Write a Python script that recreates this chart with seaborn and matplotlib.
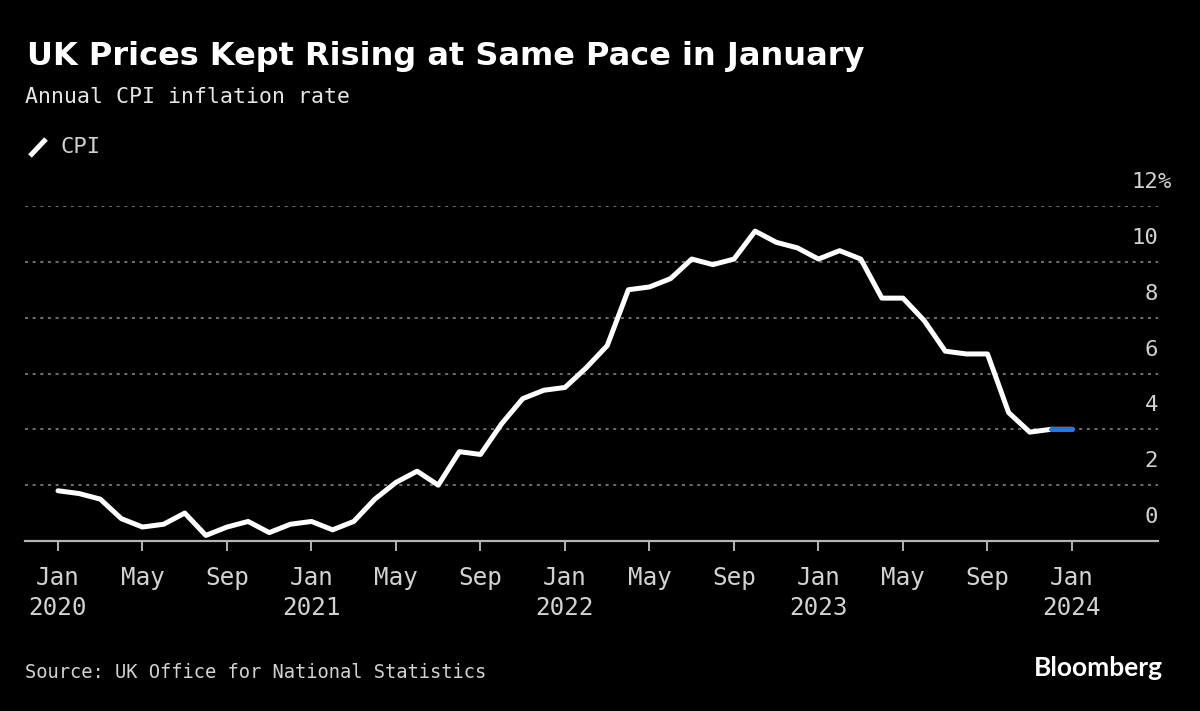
import matplotlib
matplotlib.use("Agg")
import numpy as np
import pandas as pd
import seaborn as sns
import matplotlib.pyplot as plt
import matplotlib.transforms as mtransforms
from matplotlib.lines import Line2D


# UK annual CPI inflation, Jan 2020 .. Jan 2024 (monthly)
months = pd.date_range("2020-01-01", "2024-01-01", freq="MS")
cpi = [1.8, 1.7, 1.5, 0.8, 0.5, 0.6, 1.0, 0.2, 0.5, 0.7, 0.3, 0.6,
       0.7, 0.4, 0.7, 1.5, 2.1, 2.5, 2.0, 3.2, 3.1, 4.2, 5.1, 5.4,
       5.5, 6.2, 7.0, 9.0, 9.1, 9.4, 10.1, 9.9, 10.1, 11.1, 10.7, 10.5,
       10.1, 10.4, 10.1, 8.7, 8.7, 7.9, 6.8, 6.7, 6.7, 4.6, 3.9, 4.0,
       4.0]
tick_idx = list(range(0, 49, 4))
tick_labels = ["Jan\n2020", "May", "Sep", "Jan\n2021", "May", "Sep",
               "Jan\n2022", "May", "Sep", "Jan\n2023", "May", "Sep",
               "Jan\n2024"]
y_ticks = [0, 2, 4, 6, 8, 10, 12]

BG = "black"
GRID = "#8c8c8c"
AXIS = "#b4b4b4"
LABEL = "#d2d2d2"
BLUE = "#1f78e6"

sns.set_theme(style="dark", rc={
    "figure.facecolor": BG,
    "axes.facecolor": BG,
    "savefig.facecolor": BG,
})
mono = ["DejaVu Sans Mono", "Liberation Mono"]
plt.rcParams["font.family"] = mono

df = pd.DataFrame({"month": np.arange(len(cpi)), "date": months, "cpi": cpi})

fig = plt.figure(figsize=(12, 7.11), dpi=100)
ax = fig.add_axes([25 / 1200, (711 - 541) / 711, 1133 / 1200, 335 / 711])

sns.lineplot(data=df, x="month", y="cpi", color="white", lw=3.6, ax=ax)
sns.lineplot(data=df.iloc[-2:], x="month", y="cpi", color=BLUE, lw=3.6, ax=ax)

ax.set_xlim(-33 / 21.125, 1100 / 21.125)
ax.set_ylim(0, 12)
ax.set_xlabel("")
ax.set_ylabel("")

# grid
ax.set_yticks(y_ticks)
ax.set_yticklabels([])
ax.tick_params(axis="y", length=0)
ax.yaxis.grid(True, color=GRID, lw=1.1, linestyle=(0, (2, 3)))
ax.xaxis.grid(False)
ax.set_axisbelow(True)

for s in ["top", "left", "right"]:
    ax.spines[s].set_visible(False)
ax.spines["bottom"].set_color(AXIS)
ax.spines["bottom"].set_linewidth(1.6)

ax.set_xticks(tick_idx)
ax.set_xticklabels(tick_labels, fontsize=17.5, color=LABEL, linespacing=1.3)
ax.tick_params(axis="x", length=7, width=1.4, color=AXIS, pad=11, bottom=True)

# y labels sit above the gridlines, right aligned at the axis end
trans = mtransforms.blended_transform_factory(ax.transAxes, ax.transData)
up = mtransforms.ScaledTranslation(0, 24 / 100, fig.dpi_scale_trans)
for v in y_ticks:
    ax.text(1.0, v, str(v), transform=trans + up, ha="right", va="center",
            fontsize=16, color=LABEL, clip_on=False)
ax.text(1.0, 12, "%", transform=trans + up, ha="left", va="center",
        fontsize=16, color=LABEL, clip_on=False)

# titles
fig.text(27 / 1200, 1 - 57 / 711, "UK Prices Kept Rising at Same Pace in January",
         fontsize=23, fontweight="bold", color="white", va="center",
         family="DejaVu Sans")
fig.text(25 / 1200, 1 - 97 / 711, "Annual CPI inflation rate",
         fontsize=15.5, color="#e6e6e6", va="center")

# legend
fig.add_artist(Line2D([30 / 1200, 46 / 1200], [1 - 156 / 711, 1 - 139 / 711],
                      color="white", lw=3.6, solid_capstyle="butt"))
fig.text(60 / 1200, 1 - 147 / 711, "CPI", fontsize=16, color=LABEL, va="center")

# footer
fig.text(25 / 1200, 1 - 672 / 711, "Source: UK Office for National Statistics",
         fontsize=13.5, color=LABEL, va="center")
fig.text(1163 / 1200, 1 - 668 / 711, "Bloomberg", fontsize=19, fontweight="bold",
         color="white", ha="right", va="center", family="Lato")

fig.savefig("out.png", dpi=100, facecolor=BG)
